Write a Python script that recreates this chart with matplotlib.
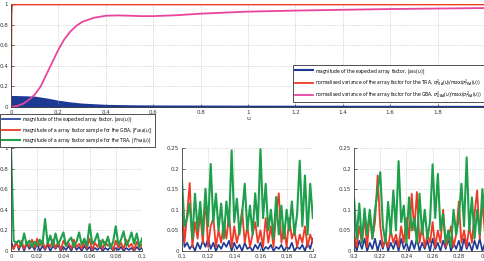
import matplotlib.pyplot as plt
import numpy as np

# ---- top panel data ----
u_pink = [0, 0.025, 0.05, 0.075, 0.1, 0.125, 0.15, 0.175, 0.2, 0.225, 0.25, 0.275,
          0.3, 0.35, 0.4, 0.45, 0.5, 0.55, 0.6, 0.7, 0.8, 0.9, 1.0, 1.2, 1.4, 1.6, 1.8, 2.0]
var_gba = [0, 0.01, 0.03, 0.07, 0.12, 0.2, 0.32, 0.44, 0.56, 0.66, 0.735, 0.79,
           0.83, 0.87, 0.89, 0.893, 0.89, 0.886, 0.886, 0.895, 0.91, 0.92, 0.93, 0.94,
           0.948, 0.955, 0.96, 0.965]
u_red = [0, 0.002, 0.004, 0.01, 0.1, 0.5, 1.0, 1.5, 2.0]
var_tra = [0, 0.9, 0.99, 1.0, 1.0, 1.0, 1.0, 1.0, 1.0]
u_env = [0, 0.05, 0.1, 0.15, 0.2, 0.25, 0.3, 0.35, 0.4, 0.5, 0.6, 1.0, 2.0]
a_env = [0.105, 0.102, 0.098, 0.08, 0.058, 0.042, 0.03, 0.024, 0.018, 0.014, 0.012, 0.01, 0.008]

# ---- bottom panels data (step 0.002) ----
green1 = [1.0, 0.1, 0.08, 0.1, 0.05, 0.17, 0.06, 0.1, 0.04, 0.09, 0.05, 0.11, 0.06,
          0.31, 0.07, 0.15, 0.05, 0.17, 0.06, 0.12, 0.18, 0.05, 0.1, 0.13, 0.04, 0.09,
          0.18, 0.06, 0.12, 0.05, 0.26, 0.07, 0.1, 0.17, 0.04, 0.11, 0.05, 0.14, 0.03,
          0.09, 0.24, 0.06, 0.11, 0.19, 0.05, 0.1, 0.18, 0.07, 0.17, 0.04, 0.12]
red1 = [0.05, 0.02, 0.08, 0.03, 0.1, 0.02, 0.09, 0.04, 0.11, 0.03, 0.12, 0.05, 0.1,
        0.02, 0.08, 0.04, 0.11, 0.03, 0.09, 0.01, 0.1, 0.05, 0.08, 0.02, 0.11, 0.04,
        0.07, 0.02, 0.09, 0.03, 0.12, 0.01, 0.08, 0.04, 0.1, 0.02, 0.09, 0.05, 0.07,
        0.01, 0.1, 0.03, 0.08, 0.02, 0.11, 0.04, 0.07, 0.01, 0.09, 0.03, 0.06]
blue1 = [0.1, 0.02, 0.09, 0.01, 0.08, 0.0, 0.07, 0.02, 0.06, 0.01, 0.07, 0.0, 0.05,
         0.01, 0.06, 0.0, 0.05, 0.02, 0.06, 0.0, 0.04, 0.01, 0.05, 0.0, 0.06, 0.01,
         0.04, 0.0, 0.05, 0.01, 0.04, 0.0, 0.03, 0.01, 0.04, 0.0, 0.03, 0.01, 0.04,
         0.0, 0.03, 0.01, 0.04, 0.0, 0.03, 0.01, 0.03, 0.0, 0.04, 0.01, 0.03]

green2 = [0.175, 0.06, 0.08, 0.115, 0.03, 0.139, 0.05, 0.119, 0.04, 0.151, 0.06, 0.211,
          0.07, 0.139, 0.05, 0.115, 0.03, 0.12, 0.06, 0.244, 0.07, 0.127, 0.04, 0.09,
          0.163, 0.05, 0.11, 0.04, 0.14, 0.06, 0.247, 0.08, 0.163, 0.05, 0.1, 0.03,
          0.131, 0.04, 0.11, 0.03, 0.1, 0.05, 0.12, 0.04, 0.09, 0.219, 0.06, 0.183,
          0.04, 0.163, 0.08]
red2 = [0.13, 0.02, 0.09, 0.165, 0.01, 0.07, 0.03, 0.09, 0.02, 0.13, 0.01, 0.06, 0.08,
        0.01, 0.05, 0.02, 0.07, 0.03, 0.09, 0.01, 0.06, 0.02, 0.05, 0.1, 0.02, 0.06,
        0.01, 0.04, 0.07, 0.02, 0.05, 0.01, 0.08, 0.02, 0.06, 0.01, 0.09, 0.14, 0.02,
        0.06, 0.01, 0.08, 0.03, 0.05, 0.01, 0.04, 0.02, 0.06, 0.01, 0.04, 0.02]
blue2 = [0.08, 0.01, 0.02, 0.005, 0.015, 0.0, 0.02, 0.005, 0.025, 0.01, 0.03, 0.005,
         0.02, 0.0, 0.015, 0.005, 0.02, 0.01, 0.025, 0.0, 0.02, 0.005, 0.015, 0.0,
         0.02, 0.005, 0.01, 0.0, 0.015, 0.005, 0.02, 0.0, 0.01, 0.005, 0.015, 0.0,
         0.01, 0.005, 0.015, 0.0, 0.01, 0.005, 0.02, 0.0, 0.01, 0.005, 0.015, 0.0,
         0.02, 0.005, 0.03]

green3 = [0.127, 0.03, 0.115, 0.02, 0.103, 0.04, 0.1, 0.03, 0.098, 0.147, 0.191, 0.06,
          0.02, 0.119, 0.04, 0.147, 0.05, 0.218, 0.07, 0.11, 0.02, 0.13, 0.05, 0.08,
          0.02, 0.139, 0.04, 0.1, 0.03, 0.07, 0.21, 0.08, 0.187, 0.05, 0.09, 0.02, 0.05,
          0.01, 0.1, 0.04, 0.08, 0.163, 0.06, 0.227, 0.05, 0.13, 0.03, 0.1, 0.04, 0.15,
          0.07]
red3 = [0.04, 0.01, 0.06, 0.02, 0.08, 0.01, 0.09, 0.03, 0.07, 0.183, 0.06, 0.01, 0.03,
        0.01, 0.05, 0.02, 0.04, 0.01, 0.06, 0.02, 0.08, 0.03, 0.139, 0.05, 0.143, 0.02,
        0.06, 0.01, 0.04, 0.02, 0.07, 0.01, 0.05, 0.02, 0.1, 0.01, 0.03, 0.06, 0.01,
        0.04, 0.12, 0.02, 0.05, 0.01, 0.06, 0.02, 0.09, 0.147, 0.03, 0.12, 0.04]
blue3 = [0.03, 0.0, 0.025, 0.005, 0.03, 0.0, 0.02, 0.005, 0.03, 0.0, 0.025, 0.005,
         0.03, 0.0, 0.02, 0.005, 0.025, 0.0, 0.03, 0.005, 0.02, 0.0, 0.025, 0.005,
         0.03, 0.0, 0.02, 0.005, 0.025, 0.0, 0.03, 0.005, 0.02, 0.0, 0.025, 0.005,
         0.03, 0.0, 0.02, 0.005, 0.025, 0.0, 0.03, 0.005, 0.02, 0.0, 0.025, 0.005,
         0.03, 0.0, 0.02]

ranges = [(0.0, 0.1), (0.1, 0.2), (0.2, 0.3)]
ylims = [1.0, 0.25, 0.25]

BLUE = "#1c3a94"
RED = "#ee3a25"
GREEN = "#1d9f4b"
PINK = "#e8459e"

lab_a = r"magnitude of the expected array factor, $|a_{EU}(u)|$"
lab_tra = r"normalised variance of the array factor for the TRA, $\sigma^2_{TRA}(u)/\max(\sigma^2_{TRA}(u))$"
lab_gba = r"normalised variance of the array factor for the GBA, $\sigma^2_{GBA}(u)/\max(\sigma^2_{TRA}(u))$"
lab_fg = r"magnitude of a array factor sample for the GBA, $|F_{GBA}(u)|$"
lab_ft = r"magnitude of a array factor sample for the TRA, $|F_{TRA}(u)|$"


def style(ax):
    ax.tick_params(direction="in", length=2, width=0.5, labelsize=4, pad=2,
                   colors="#333333")
    ax.grid(True, linestyle=":", color="#b5b5b5", linewidth=0.5)
    for s in ["top", "right"]:
        ax.spines[s].set_visible(False)
    for s in ["left", "bottom"]:
        ax.spines[s].set_linewidth(0.6)
        ax.spines[s].set_color("#444444")


fig = plt.figure(figsize=(4.85, 2.61), dpi=100)

# top panel
ax = fig.add_axes([0.0227, 0.590, 0.9773, 0.393])
ax.fill_between(u_env, a_env, 0, color=BLUE, linewidth=1.2, edgecolor=BLUE)
ha, = ax.plot([], [], color=BLUE, linewidth=1.5)
hr, = ax.plot(u_red, var_tra, color=RED, linewidth=1.3)
hp, = ax.plot(u_pink, var_gba, color=PINK, linewidth=1.3)
ax.set_xlim(0, 2)
ax.set_ylim(0, 1)
ax.set_xticks(np.arange(0, 2.01, 0.2))
ax.set_xticklabels(["0", "0.2", "0.4", "0.6", "0.8", "1", "1.2", "1.4", "1.6", "1.8", "2"])
ax.set_yticks([0, 0.2, 0.4, 0.6, 0.8, 1])
ax.set_yticklabels(["0", "0.2", "0.4", "0.6", "0.8", "1"])
style(ax)
ax.set_xlabel("u", fontsize=4.5, labelpad=1, color="#333333")
leg = ax.legend([ha, hr, hp], [lab_a, lab_tra, lab_gba], loc="upper right",
                bbox_to_anchor=(0.998, 0.751), bbox_transform=fig.transFigure,
                borderaxespad=0, fontsize=3.25, fancybox=False, edgecolor="#333333",
                framealpha=1, handlelength=4.0, handletextpad=0.6,
                labelspacing=0.35, borderpad=0.35)
leg.get_frame().set_linewidth(0.6)

# bottom panels
lefts = [0.0227, 0.375, 0.730]
green = [green1, green2, green3]
red = [red1, red2, red3]
blue = [blue1, blue2, blue3]
tick_sets = [
    (np.arange(0, 0.101, 0.02), ["0", "0.02", "0.04", "0.06", "0.08", "0.1"]),
    (np.arange(0.1, 0.201, 0.02), ["0.1", "0.12", "0.14", "0.16", "0.18", "0.2"]),
    (np.arange(0.2, 0.301, 0.02), ["0.2", "0.22", "0.24", "0.26", "0.28", "0.3"]),
]
for i in range(3):
    bx = fig.add_axes([lefts[i], 0.0383, 0.270, 0.395])
    x = np.linspace(ranges[i][0], ranges[i][1], len(green[i]))
    hb, = bx.plot(x, blue[i], color=BLUE, linewidth=1.2)
    hrr, = bx.plot(x, red[i], color=RED, linewidth=1.3)
    hg, = bx.plot(x, green[i], color=GREEN, linewidth=1.5)
    bx.set_xlim(ranges[i])
    bx.set_ylim(0, ylims[i])
    bx.set_xticks(tick_sets[i][0])
    bx.set_xticklabels(tick_sets[i][1])
    if i == 0:
        bx.set_yticks([0, 0.2, 0.4, 0.6, 0.8, 1])
        bx.set_yticklabels(["0", "0.2", "0.4", "0.6", "0.8", "1"])
    else:
        bx.set_yticks([0, 0.05, 0.1, 0.15, 0.2, 0.25])
        bx.set_yticklabels(["0", "0.05", "0.1", "0.15", "0.2", "0.25"])
    style(bx)
    if i == 0:
        h_low = (hb, hrr, hg)

leg2 = fig.legend(list(h_low), [lab_a, lab_fg, lab_ft], loc="upper left",
                  bbox_to_anchor=(0.0, 0.565), borderaxespad=0, fontsize=3.25,
                  fancybox=False, edgecolor="#333333", framealpha=1,
                  handlelength=4.0, handletextpad=0.6, labelspacing=0.35,
                  borderpad=0.35)
leg2.get_frame().set_linewidth(0.6)

fig.savefig("out.png", dpi=100)
